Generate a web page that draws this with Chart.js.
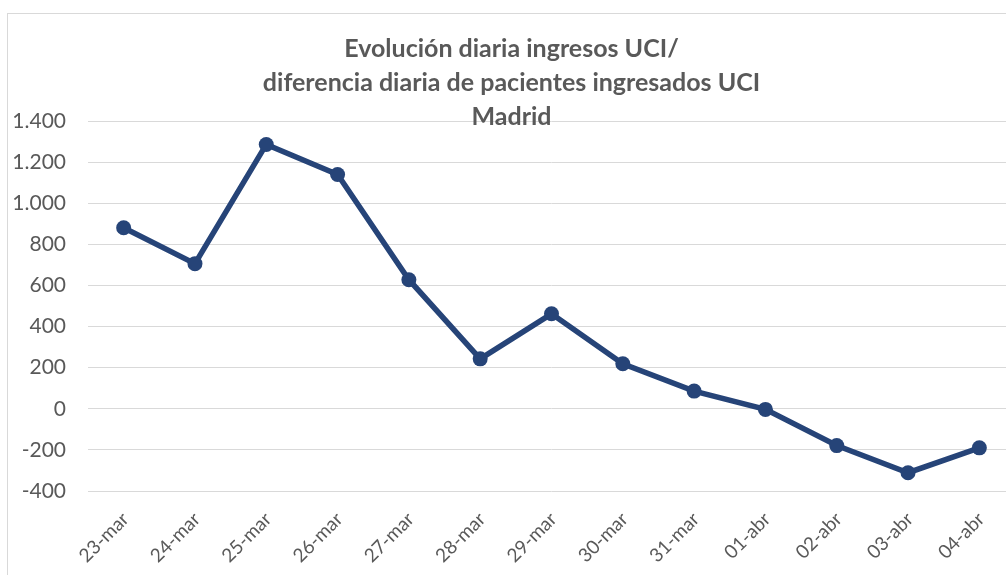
<!DOCTYPE html>
<html>
<head>
<meta charset="utf-8">
<script src="https://cdn.jsdelivr.net/npm/chart.js@4.4.1/dist/chart.umd.min.js"></script>
<style>
  html, body { margin: 0; padding: 0; background: #fff; overflow: hidden; width: 1006px; height: 575px; }
  #box { position: absolute; left: 7px; top: 13px; width: 1030px; height: 600px; border: 1px solid #d9d9d9; box-sizing: border-box; }
  #wrap { position: absolute; left: 0; top: 0; width: 1020px; height: 561px; }
</style>
</head>
<body>
<div id="box"><div id="wrap"><canvas id="c"></canvas></div></div>
<script>
const categories = ['23-mar','24-mar','25-mar','26-mar','27-mar','28-mar','29-mar','30-mar','31-mar','01-abr','02-abr','03-abr','04-abr'];
const ingresosUCI = [881, 706, 1286, 1140, 628, 243, 462, 219, 86, -3, -179, -311, -190];
const titleLines = ['Evolución diaria ingresos UCI/', 'diferencia diaria de pacientes ingresados UCI', 'Madrid'];
const yMin = -400, yMax = 1400, yStep = 200;

function fmt(v) {
  const s = Math.abs(v).toString().replace(/\B(?=(\d{3})+(?!\d))/g, '.');
  return (v < 0 ? '-' : '') + s;
}

new Chart(document.getElementById('c'), {
  type: 'line',
  data: {
    labels: categories,
    datasets: [{
      data: ingresosUCI,
      borderColor: '#264478',
      backgroundColor: '#264478',
      borderWidth: 5.5,
      pointRadius: 7.5,
      pointHoverRadius: 7.5,
      pointBackgroundColor: '#264478',
      pointBorderColor: '#264478',
      pointBorderWidth: 0,
      tension: 0,
      fill: false
    }]
  },
  options: {
    responsive: true,
    maintainAspectRatio: false,
    animation: false,
    layout: { padding: { left: 0, right: 13, top: 0, bottom: 0 } },
    plugins: {
      legend: { display: false },
      tooltip: { enabled: false },
      title: {
        display: true,
        text: titleLines,
        color: '#595959',
        font: { family: 'Lato', size: 25, weight: 'bold', lineHeight: '34px' },
        padding: { top: 18, bottom: -13 }
      }
    },
    scales: {
      x: {
        offset: true,
        grid: { display: false, drawTicks: false },
        border: { display: false },
        ticks: {
          color: '#595959',
          font: { family: 'Lato', size: 19 },
          maxRotation: 45, minRotation: 45,
          autoSkip: false,
          padding: 17,
          labelOffset: 2
        },
        afterFit: (s) => { s.height = 84; }
      },
      y: {
        min: yMin, max: yMax,
        grid: { color: '#d9d9d9', lineWidth: 1, drawTicks: false },
        border: { display: false },
        ticks: {
          stepSize: yStep,
          color: '#595959',
          font: { family: 'Lato', size: 21 },
          padding: 22,
          callback: (v) => fmt(v)
        },
        afterFit: (s) => { s.width = 80; }
      }
    }
  }
});
</script>
</body>
</html>
